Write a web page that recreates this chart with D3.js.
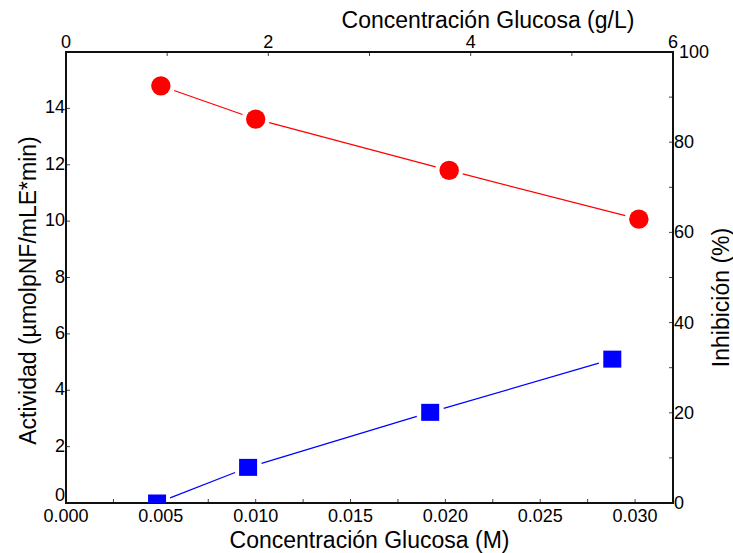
<!DOCTYPE html>
<html>
<head>
<meta charset="utf-8">
<script src="https://cdn.jsdelivr.net/npm/d3@7/dist/d3.min.js"></script>
<style>
  html, body { margin: 0; padding: 0; background: #fff; }
  svg { display: block; font-family: "Liberation Sans", Arial, sans-serif; }
</style>
</head>
<body>
<svg id="chart" width="733" height="553"></svg>
<script>
// Activity vs molar glucose (bottom / left axes)
const glucoseM = [0.005, 0.010, 0.0202, 0.0302];
const actividad = [14.80, 13.62, 11.80, 10.07];

// Inhibition vs glucose in g/L (top / right axes)
const glucoseGL = [0.9, 1.8, 3.6, 5.4];
const inhibicion = [0, 7.9, 20.1, 31.9];

const bottomTicks = [0, 0.005, 0.010, 0.015, 0.020, 0.025, 0.030];
const bottomMinor = [0.0025, 0.0075, 0.0125, 0.0175, 0.0225, 0.0275];
const topTicks = [0, 2, 4, 6];
const topMinor = [1, 3, 5];
const leftTicks = [0, 2, 4, 6, 8, 10, 12, 14];
const rightTicks = [0, 20, 40, 60, 80, 100];
const rightMinor = [10, 30, 50, 70, 90];

const L = 66, R = 673, T = 52, B = 503;

const svg = d3.select("#chart");

const x = d3.scaleLinear().domain([0, 0.032]).range([L, R]);
const xTop = d3.scaleLinear().domain([0, 6]).range([L, R]);
const yL = d3.scaleLinear().domain([0, 16]).range([B, T]);
const yR = d3.scaleLinear().domain([0, 100]).range([B, T]);

const fmt3 = d3.format(".3f");
const tickFont = 18;
const titleFont = 23;

svg.append("defs").append("clipPath").attr("id", "plot")
  .append("rect").attr("x", L).attr("y", T).attr("width", R - L).attr("height", B - T);

// ticks (inward)
const tickG = svg.append("g").attr("stroke", "#444").attr("stroke-width", 1);
bottomTicks.concat(bottomMinor).forEach(v => {
  tickG.append("line").attr("x1", x(v)).attr("x2", x(v)).attr("y1", B).attr("y2", B - 4);
});
topTicks.concat(topMinor).forEach(v => {
  tickG.append("line").attr("x1", xTop(v)).attr("x2", xTop(v)).attr("y1", T).attr("y2", T + 4);
});
leftTicks.forEach(v => {
  tickG.append("line").attr("x1", L).attr("x2", L + 4).attr("y1", yL(v)).attr("y2", yL(v));
});
rightTicks.concat(rightMinor).forEach(v => {
  tickG.append("line").attr("x1", R).attr("x2", R - 4).attr("y1", yR(v)).attr("y2", yR(v));
});

// frame
svg.append("rect")
  .attr("x", L).attr("y", T).attr("width", R - L).attr("height", B - T)
  .attr("fill", "none").attr("stroke", "#111").attr("stroke-width", 2);

// tick labels
const lab = svg.append("g").attr("font-size", tickFont).attr("fill", "#000");
bottomTicks.forEach(v => {
  lab.append("text").attr("x", x(v)).attr("y", B + 19)
    .attr("text-anchor", "middle").text(fmt3(v));
});
topTicks.forEach(v => {
  lab.append("text").attr("x", xTop(v)).attr("y", T - 4)
    .attr("text-anchor", "middle").text(v);
});
leftTicks.forEach(v => {
  lab.append("text").attr("x", L - 1).attr("y", yL(v) + (v === 0 ? -2 : 5))
    .attr("text-anchor", "end").text(v);
});
rightTicks.forEach(v => {
  lab.append("text").attr("x", R + (v === 100 ? 6 : 1)).attr("y", yR(v) + 6)
    .attr("text-anchor", "start").text(v);
});

// axis titles
const tt = svg.append("g").attr("font-size", titleFont).attr("fill", "#000");
tt.append("text").attr("x", (L + R) / 2).attr("y", 548)
  .attr("text-anchor", "middle").text("Concentración Glucosa (M)");
tt.append("text").attr("x", 488).attr("y", 28)
  .attr("text-anchor", "middle").text("Concentración Glucosa (g/L)");
tt.append("text").attr("transform", `translate(36,${(T + B) / 2 + 13}) rotate(-90)`)
  .attr("text-anchor", "middle").text("Actividad (µmolpNF/mLE*min)");
tt.append("text").attr("transform", `translate(729,${(T + B) / 2 + 20}) rotate(-90)`)
  .attr("text-anchor", "middle").text("Inhibición (%)");

// connecting segments that stop short of each marker
function gapSegments(pts, gap) {
  const segs = [];
  for (let i = 0; i < pts.length - 1; i++) {
    const [x1, y1] = pts[i], [x2, y2] = pts[i + 1];
    const dx = x2 - x1, dy = y2 - y1, len = Math.hypot(dx, dy);
    const ux = dx / len, uy = dy / len;
    segs.push([x1 + ux * gap, y1 + uy * gap, x2 - ux * gap, y2 - uy * gap]);
  }
  return segs;
}

const plot = svg.append("g").attr("clip-path", "url(#plot)");

const redPts = glucoseM.map((g, i) => [x(g), yL(actividad[i])]);
const bluePts = glucoseGL.map((g, i) => [xTop(g), yR(inhibicion[i])]);

plot.selectAll("line.red").data(gapSegments(redPts, 14)).join("line")
  .attr("x1", d => d[0]).attr("y1", d => d[1]).attr("x2", d => d[2]).attr("y2", d => d[3])
  .attr("stroke", "#ff0000").attr("stroke-width", 1.2);
plot.selectAll("line.blue").data(gapSegments(bluePts, 14)).join("line")
  .attr("x1", d => d[0]).attr("y1", d => d[1]).attr("x2", d => d[2]).attr("y2", d => d[3])
  .attr("stroke", "#0000ff").attr("stroke-width", 1.2);

plot.selectAll("circle").data(redPts).join("circle")
  .attr("cx", d => d[0]).attr("cy", d => d[1]).attr("r", 9.7)
  .attr("fill", "#ff0000");
plot.selectAll("rect.sq").data(bluePts).join("rect")
  .attr("x", d => d[0] - 9).attr("y", d => d[1] - 8.5)
  .attr("width", 18).attr("height", 17)
  .attr("fill", "#0000ff");
</script>
</body>
</html>
